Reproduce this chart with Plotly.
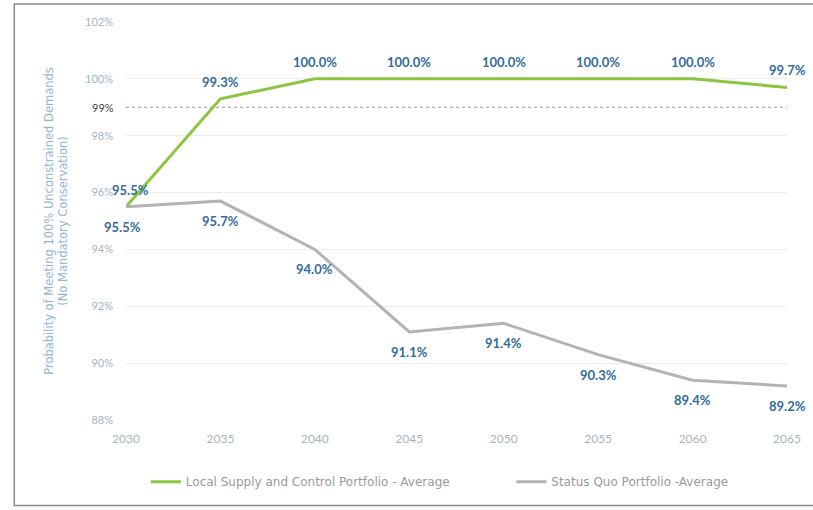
import plotly.graph_objects as go

years = [2030, 2035, 2040, 2045, 2050, 2055, 2060, 2065]
local_supply = [95.5, 99.3, 100.0, 100.0, 100.0, 100.0, 100.0, 99.7]
status_quo = [95.5, 95.7, 94.0, 91.1, 91.4, 90.3, 89.4, 89.2]
y_ticks = [88, 90, 92, 94, 96, 98, 100, 102]
target = 99

label_color = "#336c9c"
tick_color = "#9fb6c6"

fig = go.Figure()
fig.add_trace(go.Scatter(
    x=years, y=local_supply, mode="lines",
    name="Local Supply and Control Portfolio - Average",
    line=dict(color="#8cc63f", width=3), legend="legend",
))
fig.add_trace(go.Scatter(
    x=years, y=status_quo, mode="lines",
    name="Status Quo Portfolio -Average",
    line=dict(color="#b3b3b3", width=3), legend="legend2",
))

lab_font = dict(family="Lato", size=13, color=label_color, weight="bold")
for x, v in zip(years, local_supply):
    fig.add_annotation(x=x, y=v, text=f"{v:.1f}%", showarrow=False, yshift=17,
                       xshift=4 if x == years[0] else 0, font=lab_font)
for x, v in zip(years, status_quo):
    fig.add_annotation(x=x, y=v, text=f"{v:.1f}%", showarrow=False, yshift=-20,
                       xshift=-4 if x == years[0] else 0, font=lab_font)

fig.add_shape(type="line", xref="x", yref="y", x0=years[0], x1=years[-1], y0=target, y1=target,
              line=dict(color="#9a9a9a", width=1, dash="dot"), layer="below")
fig.add_annotation(x=0, xref="paper", y=target, yref="y", text=f"{target}%", showarrow=False,
                   xanchor="right", xshift=-10, font=dict(family="Lato", size=11, color="#444444"))
fig.add_shape(type="rect", xref="paper", yref="paper", x0=-0.169, x1=1.05, y0=-0.215, y1=1.045,
              line=dict(color="#8a8a8a", width=1.5), layer="below")

leg_common = dict(orientation="h", xanchor="left", y=-0.155, yanchor="middle",
                  font=dict(family="DejaVu Sans", size=12, color="#9a9a9a"),
                  itemwidth=30, bgcolor="rgba(0,0,0,0)")

fig.update_layout(
    width=813, height=510,
    margin=dict(l=126, r=17, t=22, b=90),
    paper_bgcolor="white", plot_bgcolor="white",
    font=dict(family="Lato", color=tick_color),
    showlegend=True,
    legend=dict(x=0.03, **leg_common),
    legend2=dict(x=0.583, **leg_common),
    xaxis=dict(range=[2030, 2065], tickvals=years, ticktext=[str(y) for y in years],
               showgrid=False, zeroline=False, showline=False,
               tickfont=dict(size=12, color=tick_color), ticks="", ticklabelstandoff=10),
    yaxis=dict(range=[88, 102], tickvals=y_ticks, ticktext=[f"{v}%" for v in y_ticks],
               showgrid=True, gridcolor="#ececec", gridwidth=1, zeroline=False, showline=False,
               tickfont=dict(size=11, color=tick_color), ticks="", ticklabelstandoff=12,
               title=dict(text="Probability of Meeting 100% Unconstrained Demands<br>(No Mandatory Conservation)",
                          font=dict(family="DejaVu Sans", size=11.5, color="#8fb7d3"), standoff=14)),
)

fig.write_html("out.html")
